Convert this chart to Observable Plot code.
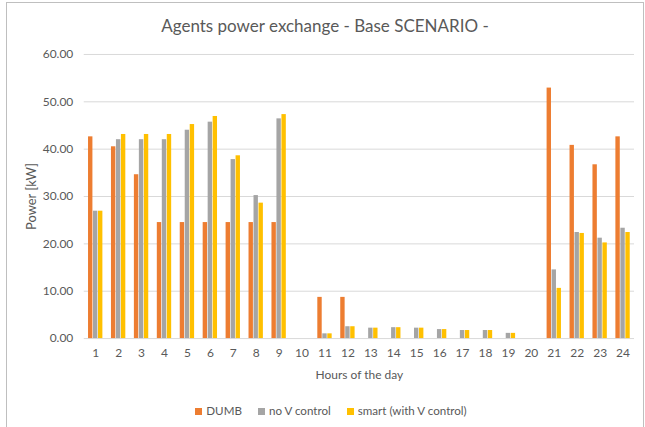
<!DOCTYPE html>
<html><head><meta charset="utf-8">
<script src="https://cdn.jsdelivr.net/npm/d3@7"></script>
<script src="https://cdn.jsdelivr.net/npm/@observablehq/plot@0.6"></script>
<style>
body{margin:0;background:#fff;}
#chart{position:absolute;left:6px;top:2px;width:638px;height:440px;box-sizing:border-box;border:1px solid #bfbfbf;font-family:Lato,"Open Sans",sans-serif;color:#595959;overflow:hidden;background:#fff}
#title{position:absolute;top:13px;left:0;width:100%;text-align:center;font-size:17px;line-height:20px;}
#plot{position:absolute;top:37px;left:-7px}
#legend{position:absolute;top:401px;left:6px;width:100%;display:flex;justify-content:center;gap:16px;font-size:11.6px;line-height:14px}
#legend span.item{display:flex;align-items:center}
.sw{display:inline-block;width:7px;height:7px;margin-right:4px}
</style></head>
<body>
<div id="chart">
  <div id="title">Agents power exchange - Base SCENARIO -</div>
  <div id="plot"></div>
  <div id="legend"></div>
</div>
<script>
const hours = ["1","2","3","4","5","6","7","8","9","10","11","12","13","14","15","16","17","18","19","20","21","22","23","24"];
const seriesNames = ["DUMB", "no V control", "smart (with V control)"];
const seriesColors = ["#ED7D31", "#A5A5A5", "#FFC000"];
const dumb  = [42.6,40.5,34.6,24.5,24.5,24.5,24.5,24.5,24.5,0,8.7,8.7,0,0,0,0,0,0,0,0,52.9,40.8,36.7,42.6];
const noV   = [26.9,42.0,42.0,42.0,44.0,45.7,37.8,30.2,46.4,0,1.0,2.5,2.2,2.3,2.2,1.9,1.7,1.7,1.1,0,14.5,22.4,21.2,23.3];
const smart = [26.9,43.1,43.1,43.1,45.2,46.9,38.6,28.6,47.3,0,1.0,2.5,2.2,2.3,2.2,1.9,1.7,1.7,1.1,0,10.6,22.2,20.2,22.4];
const yTicks = [0,10,20,30,40,50,60];

const seriesValues = [dumb, noV, smart];
const data = seriesValues.flatMap((vals, i) => hours.map((h, j) => ({hour: h, series: seriesNames[i], value: vals[j]})));

const W = 645, ML = 84, MR = 9;
const band = (W - ML - MR) / hours.length;
const barW = 4.4, gap = 0.6, groupW = 3 * barW + 2 * gap;

const barMarks = seriesNames.map((s, i) => {
  const left = (band - groupW) / 2 + i * (barW + gap);
  return Plot.barY(data.filter(d => d.series === s && d.value > 0), {
    x: "hour", y: "value", fill: "series",
    insetLeft: left, insetRight: band - left - barW
  });
});

const chart = Plot.plot({
  width: W, height: 352,
  marginTop: 14, marginBottom: 53, marginLeft: ML, marginRight: MR,
  style: {fontFamily: 'Lato, "Open Sans", sans-serif', fontSize: "12px", color: "#595959", background: "transparent"},
  x: {domain: hours, padding: 0, label: "Hours of the day", labelArrow: false, labelAnchor: "center", labelOffset: 41, tickSize: 0, tickPadding: 10},
  y: {domain: [0, 60], ticks: yTicks, tickFormat: d3.format(".2f"), tickSize: 0, tickPadding: 11, label: "Power [kW]", labelArrow: false, labelAnchor: "center", labelOffset: 58},
  color: {domain: seriesNames, range: seriesColors},
  marks: [
    Plot.ruleY(yTicks, {stroke: "#d9d9d9", strokeWidth: 1}),
    ...barMarks
  ]
});
// remove any direction arrow that this Plot version may add to axis labels
chart.querySelectorAll("text").forEach(t => {
  if (/[↑→←↓]/.test(t.textContent)) t.textContent = t.textContent.replace(/\s*[↑→←↓]\s*/g, "");
  if (t.textContent === "Power [kW]") t.style.fontSize = "13px";
});
document.getElementById("plot").appendChild(chart);

const legend = document.getElementById("legend");
seriesNames.forEach((s, i) => {
  const it = document.createElement("span");
  it.className = "item";
  const sw = document.createElement("span");
  sw.className = "sw";
  sw.style.background = seriesColors[i];
  it.appendChild(sw);
  it.appendChild(document.createTextNode(s));
  legend.appendChild(it);
});
</script>
</body></html>
